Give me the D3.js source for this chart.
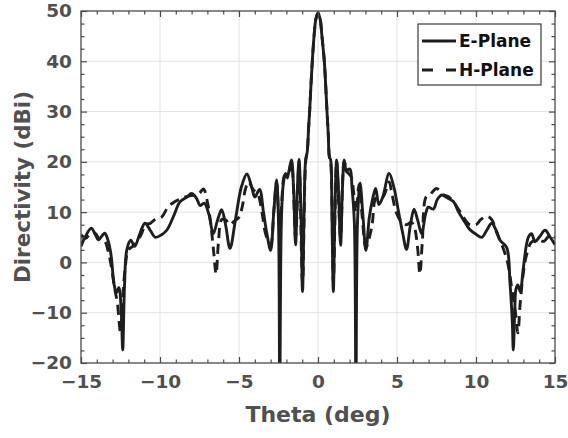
<!DOCTYPE html>
<html>
<head>
<meta charset="utf-8">
<script src="https://cdn.jsdelivr.net/npm/d3@7"></script>
<style>
  body { margin: 0; background: #fff; }
</style>
</head>
<body>
<div class="chart"></div>
<script>
// E-plane cut (solid)
const thetaE = [-15, -14.75, -14.35, -14.1, -13.9, -13.5, -13.3, -13.1, -12.9, -12.75, -12.6, -12.45, -12.36, -12.25, -12.1,
  -11.85, -11.6, -11.3, -10.95, -10.6, -10.3, -9.9, -9.55, -9.1, -8.75, -8.3, -8.0, -7.7, -7.45, -7.2, -6.9, -6.63,
  -6.35, -6.1, -5.85, -5.57, -5.2, -4.85, -4.5, -4.2, -4.0, -3.7, -3.45, -3.25, -3.0, -2.8, -2.62, -2.5, -2.42, -2.32,
  -2.2, -2.06, -1.95, -1.85, -1.68, -1.55, -1.42, -1.3, -1.2, -1.08, -0.98, -0.88, -0.78,
  -0.68, -0.6, -0.53, -0.45, -0.36, -0.25, -0.13, 0, 0.13, 0.25, 0.4, 0.49, 0.57, 0.65, 0.72,
  0.8, 0.88, 0.97, 1.07, 1.18, 1.3, 1.43, 1.55, 1.66, 1.8, 1.9, 2.03, 2.15, 2.3, 2.4, 2.5, 2.66, 2.85, 3.03,
  3.25, 3.45, 3.65, 3.85, 4.1, 4.5, 4.8, 5.1, 5.35, 5.6, 5.85, 6.08, 6.3, 6.56, 6.8, 6.98, 7.3, 7.55, 7.83,
  8.2, 8.57, 8.9, 9.3, 9.62, 10.0, 10.36, 10.7, 10.99, 11.3, 11.52, 11.94, 12.15, 12.3, 12.36, 12.45, 12.53,
  12.65, 12.8, 13.0, 13.31, 13.52, 13.73, 14.0, 14.37, 14.7, 15];
const dirE = [3.2, 5.0, 6.8, 5.6, 4.5, 5.8, 4.5, 1.5, -4.5, -6, -5, -10, -17.4, -5, 2.5,
  4.4, 3.2, 5.5, 7.8, 6.3, 5.0, 5.5, 6.5, 9.5, 12, 13, 13.7, 12.8, 11.3, 11.8, 9.5, 5.7,
  8.5, 10.5, 7.5, 2.8, 9, 15, 17.6, 15, 13.0, 14.5, 10, 6, 2.4, 10, 16.4, 8, -25, 8,
  15.5, 17.7, 16.8, 18, 20.4, 15, 3.5, 15, 20.5, 10, -5.8, 10, 20.5,
  22, 26.5, 30, 35, 40, 45, 48.5, 49.6, 48.5, 45, 40, 35, 30, 25.5, 21,
  20.4, 10, -5.8, 10, 20.4, 14, 3.4, 15, 20.4, 18, 18.5, 18.5, 15, 8, -25, 8, 15.8, 9, 2.4,
  9, 12.5, 14.7, 11.5, 13, 17.7, 15, 10, 6, 2.6, 7.5, 10.6, 8.5, 5.7, 9.5, 11, 10.6, 12.5, 13.4,
  12.8, 12.1, 10, 8, 6.5, 5.6, 5.0, 6.5, 7.8, 6.2, 4.4, 3, -4, -12, -17.4, -10, -5.3,
  -4.5, -5.8, -1, 5, 5.7, 4.1, 5, 6.4, 5, 3.5];

// H-plane cut (dashed)
const thetaH = [-15, -14.7, -14.4, -14.1, -13.8, -13.5, -13.3, -13.1, -12.85, -12.7, -12.5, -12.4, -12.2, -12.0,
  -11.6, -11.2, -10.9, -10.6, -10.3, -9.9, -9.5, -9.1, -8.6, -8.2, -7.8, -7.5, -7.25, -7.0, -6.8, -6.6, -6.45,
  -6.3, -6.1, -5.85, -5.6, -5.3, -5.0, -4.8, -4.6, -4.4, -4.1, -3.8, -3.6, -3.3, -3.0, -2.8, -2.62, -2.45, -2.3,
  -2.1, -1.85, -1.68, -1.42, -1.2, -0.98, -0.78,
  -0.68, -0.6, -0.53, -0.45, -0.36, -0.25, -0.13, 0, 0.13, 0.25, 0.4, 0.49, 0.57, 0.65, 0.72,
  0.8, 0.97, 1.18, 1.43, 1.66, 1.85, 2.1, 2.4, 2.6, 2.8, 3.03, 3.4, 3.7, 4.1, 4.5, 4.66, 4.95, 5.3, 5.6, 5.9,
  6.1, 6.3, 6.45, 6.6, 6.84, 7.1, 7.5, 7.9, 8.3, 8.8, 9.2, 9.6, 10.0, 10.3, 10.7, 11.0, 11.3, 11.7, 12.0,
  12.3, 12.5, 12.65, 12.8, 13.0, 13.2, 13.5, 13.9, 14.3, 14.7, 15];
const dirH = [5.5, 4.8, 5.8, 5.8, 4.5, 4.2, 2.5, -0.5, -5.5, -8, -14, -9, -1, 2.5,
  3.5, 5.5, 7.5, 7.8, 8.6, 9, 11, 12, 12.8, 13.2, 13.4, 13.8, 14.6, 12, 8, 2, -2.3,
  4, 8.5, 8.5, 7.5, 8.2, 9, 11, 14.5, 16, 14.5, 13.5, 11, 5.5, 3.5, 10, 16, 8, 12,
  17.5, 18, 20, 5, 20, -4, 20,
  22, 26.5, 30, 35, 40, 45, 48.5, 49.6, 48.5, 45, 40, 35, 30, 25.5, 21,
  20, -4, 20, 5, 20, 18, 17, 10, 15.5, 9, 3, 7, 13, 13, 16, 14, 10, 8, 7.5, 8,
  7, 3, -2.3, 4, 13, 13.5, 14.7, 13.5, 13, 11, 9, 7.5, 7.5, 8.5, 9.2, 8.5, 6, 3, 0,
  -6, -10, -14, -8, -2, 1.5, 4, 4.5, 4.2, 5.5, 5];

const xTicks = [-15, -10, -5, 0, 5, 10, 15];
const yTicks = [-20, -10, 0, 10, 20, 30, 40, 50];
const seriesNames = ["E-Plane", "H-Plane"];

const margin = {top: 11, right: 13, bottom: 75, left: 81},
  width = 568 - margin.left - margin.right,
  height = 438 - margin.top - margin.bottom;

const axisColor = "#4a4a4a",
  labelColor = "#505050",
  lineColor = "#1e1e1e",
  font = "'DejaVu Sans', sans-serif";

const svg = d3.select(".chart")
  .append("svg")
  .attr("width", width + margin.left + margin.right)
  .attr("height", height + margin.top + margin.bottom)
  .append("g")
  .attr("transform", `translate(${margin.left},${margin.top})`);

const x = d3.scaleLinear().domain([-15, 15]).range([0, width]);
const y = d3.scaleLinear().domain([-20, 50]).range([height, 0]);

// grid
svg.append("g").selectAll("line.gx")
  .data(xTicks.slice(1, -1))
  .join("line")
  .attr("x1", d => x(d)).attr("x2", d => x(d))
  .attr("y1", 0).attr("y2", height)
  .attr("stroke", "#e3e3e3").attr("stroke-width", 1);
svg.append("g").selectAll("line.gy")
  .data(yTicks.slice(1, -1))
  .join("line")
  .attr("y1", d => y(d)).attr("y2", d => y(d))
  .attr("x1", 0).attr("x2", width)
  .attr("stroke", "#e3e3e3").attr("stroke-width", 1);

// curves
svg.append("clipPath").attr("id", "plotclip")
  .append("rect").attr("width", width).attr("height", height);

const line = d3.line()
  .x(d => x(d[0]))
  .y(d => y(d[1]))
  .curve(d3.curveCatmullRom.alpha(0.5));

const curves = svg.append("g").attr("clip-path", "url(#plotclip)");
curves.append("path")
  .datum(d3.zip(thetaH, dirH))
  .attr("d", line)
  .attr("fill", "none")
  .attr("stroke", lineColor)
  .attr("stroke-width", 2.9)
  .attr("stroke-dasharray", "10,6");
curves.append("path")
  .datum(d3.zip(thetaE, dirE))
  .attr("d", line)
  .attr("fill", "none")
  .attr("stroke", lineColor)
  .attr("stroke-width", 2.9)
  .attr("stroke-linejoin", "round");

// axes, ticks pointing inwards
const minorX = d3.range(-15, 15.01, 1).filter(v => xTicks.indexOf(v) < 0);
const minorY = d3.range(-20, 50.01, 2.5).filter(v => yTicks.indexOf(v) < 0);

function styleAxis(g) {
  g.select(".domain").remove();
  g.selectAll(".tick line").attr("stroke", axisColor).attr("stroke-width", 1.2);
  g.selectAll(".tick text")
    .attr("fill", labelColor)
    .attr("font-family", font)
    .attr("font-weight", "bold")
    .attr("font-size", "18.5px");
}

svg.append("g")
  .attr("transform", `translate(0,${height})`)
  .call(d3.axisBottom(x).tickValues(xTicks).tickSizeInner(-6).tickSizeOuter(0).tickPadding(12).tickFormat(d3.format("d")))
  .call(styleAxis);
svg.append("g")
  .attr("transform", `translate(0,${height})`)
  .call(d3.axisBottom(x).tickValues(minorX).tickSize(-3.5).tickFormat(""))
  .call(styleAxis);
svg.append("g")
  .call(d3.axisTop(x).tickValues(xTicks).tickSize(-6).tickFormat(""))
  .call(styleAxis);
svg.append("g")
  .call(d3.axisTop(x).tickValues(minorX).tickSize(-3.5).tickFormat(""))
  .call(styleAxis);

svg.append("g")
  .call(d3.axisLeft(y).tickValues(yTicks).tickSizeInner(-6).tickSizeOuter(0).tickPadding(9).tickFormat(d3.format("d")))
  .call(styleAxis);
svg.append("g")
  .call(d3.axisLeft(y).tickValues(minorY).tickSize(-3.5).tickFormat(""))
  .call(styleAxis);
svg.append("g")
  .attr("transform", `translate(${width},0)`)
  .call(d3.axisRight(y).tickValues(yTicks).tickSize(-6).tickFormat(""))
  .call(styleAxis);
svg.append("g")
  .attr("transform", `translate(${width},0)`)
  .call(d3.axisRight(y).tickValues(minorY).tickSize(-3.5).tickFormat(""))
  .call(styleAxis);

// box
svg.append("rect")
  .attr("width", width).attr("height", height)
  .attr("fill", "none")
  .attr("stroke", axisColor)
  .attr("stroke-width", 1.3);

// axis labels
svg.append("text")
  .attr("x", width / 2)
  .attr("y", height + 59)
  .attr("text-anchor", "middle")
  .attr("fill", labelColor)
  .attr("font-family", font)
  .attr("font-weight", "bold")
  .attr("font-size", "22px")
  .text("Theta (deg)");
svg.append("text")
  .attr("transform", `translate(${30 - margin.left},${height / 2}) rotate(-90)`)
  .attr("text-anchor", "middle")
  .attr("fill", labelColor)
  .attr("font-family", font)
  .attr("font-weight", "bold")
  .attr("font-size", "21px")
  .attr("textLength", 192)
  .attr("lengthAdjust", "spacingAndGlyphs")
  .text("Directivity (dBi)");

// legend
const legend = svg.append("g")
  .attr("transform", `translate(${418 - margin.left},${24 - margin.top})`);
legend.append("rect")
  .attr("width", 123).attr("height", 61)
  .attr("fill", "#fff")
  .attr("stroke", "#3a3a3a")
  .attr("stroke-width", 1.2);
const items = legend.selectAll("g.item")
  .data(seriesNames)
  .join("g")
  .attr("transform", (d, i) => `translate(0,${17 + i * 29})`);
items.append("line")
  .attr("x1", 4).attr("x2", 38)
  .attr("stroke", lineColor)
  .attr("stroke-width", 2.9)
  .attr("stroke-dasharray", (d, i) => i ? "11,13" : null);
items.append("text")
  .attr("x", 41)
  .attr("y", 6)
  .attr("fill", "#111")
  .attr("font-family", font)
  .attr("font-weight", "bold")
  .attr("font-size", "17px")
  .text(d => d);
</script>
</body>
</html>
